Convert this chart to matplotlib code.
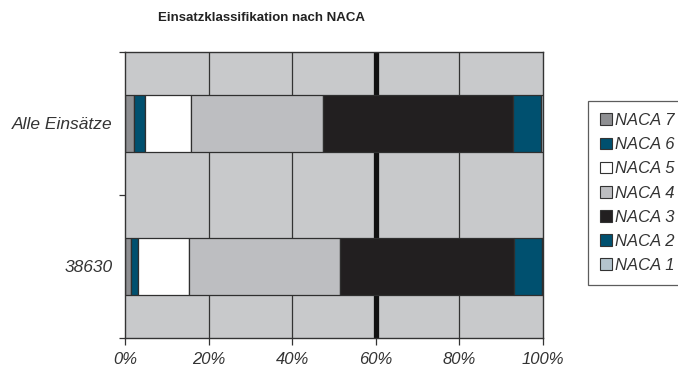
import matplotlib
matplotlib.use("Agg")
import matplotlib.pyplot as plt
from matplotlib.patches import Patch
import numpy as np

plt.rcParams['font.family'] = ['Liberation Sans', 'DejaVu Sans']

# Share of missions per NACA class (percent), stacked left to right NACA 7 -> NACA 1
categories = ["38630", "Alle Einsätze"]
series_names = ["NACA 7", "NACA 6", "NACA 5", "NACA 4", "NACA 3", "NACA 2", "NACA 1"]
naca_7 = [1.4, 2.1]
naca_6 = [1.8, 2.8]
naca_5 = [12.0, 10.8]
naca_4 = [36.2, 31.6]
naca_3 = [41.6, 45.6]
naca_2 = [6.8, 6.6]
naca_1 = [0.2, 0.5]
x_ticks = [0, 20, 40, 60, 80, 100]
x_labels = ["0%", "20%", "40%", "60%", "80%", "100%"]
title = "Einsatzklassifikation nach NACA"

series = [naca_7, naca_6, naca_5, naca_4, naca_3, naca_2, naca_1]
colors = ["#8e8f92", "#00506f", "#ffffff", "#bdbec1", "#221f20", "#00506f", "#b4c4ce"]
edge = "#2f2f2f"
text_col = "#333333"

fig = plt.figure(figsize=(6.78, 3.74), dpi=100)
ax = fig.add_axes([125 / 678, 1 - 338 / 374, 418 / 678, 286 / 374])
ax.set_facecolor("#c8c9cb")

# vertical gridlines, the 60% line drawn heavy
for xv in [20, 40, 80]:
    ax.axvline(xv, color="#333333", lw=0.9, zorder=1)
ax.axvline(60, color="#111111", lw=3.8, zorder=1)

y = np.arange(len(categories))
left = np.zeros(len(categories))
for vals, col in zip(series, colors):
    ax.barh(y, vals, left=left, height=0.4, color=col, edgecolor=edge,
            linewidth=0.9, zorder=2)
    left += np.array(vals)

ax.set_xlim(0, 100)
ax.set_ylim(-0.5, 1.5)
ax.set_xticks(x_ticks)
ax.set_xticklabels(x_labels, style="italic", color=text_col, fontsize=12)
ax.set_yticks(y)
ax.set_yticklabels(categories, style="italic", color=text_col, fontsize=12.5)
ax.set_yticks([-0.5, 0.5, 1.5], minor=True)
ax.tick_params(axis="y", which="major", length=0, pad=9)
ax.tick_params(axis="y", which="minor", length=4, width=0.9, color="#333333")
ax.tick_params(axis="x", length=5, width=0.9, color="#333333", pad=5)
for s in ax.spines.values():
    s.set_color("#333333")
    s.set_linewidth(1.0)

fig.text(262 / 678, 1 - 18 / 374, title, ha="center", va="center",
         fontsize=9.5, fontweight="bold", color="#222222")

handles = [Patch(facecolor=c, edgecolor="#333333", linewidth=0.8) for c in colors]
leg = fig.legend(handles, series_names, loc="upper left",
                 bbox_to_anchor=(588 / 678, 1 - 101 / 374), borderaxespad=0,
                 fancybox=False, frameon=True, edgecolor="#333333",
                 handlelength=0.7, handleheight=0.7, handletextpad=0.2,
                 labelspacing=0.55, borderpad=0.72,
                 prop={"size": 12, "style": "italic"})
leg.get_frame().set_linewidth(0.9)
for t in leg.get_texts():
    t.set_color(text_col)

fig.savefig("out.png", dpi=100)
